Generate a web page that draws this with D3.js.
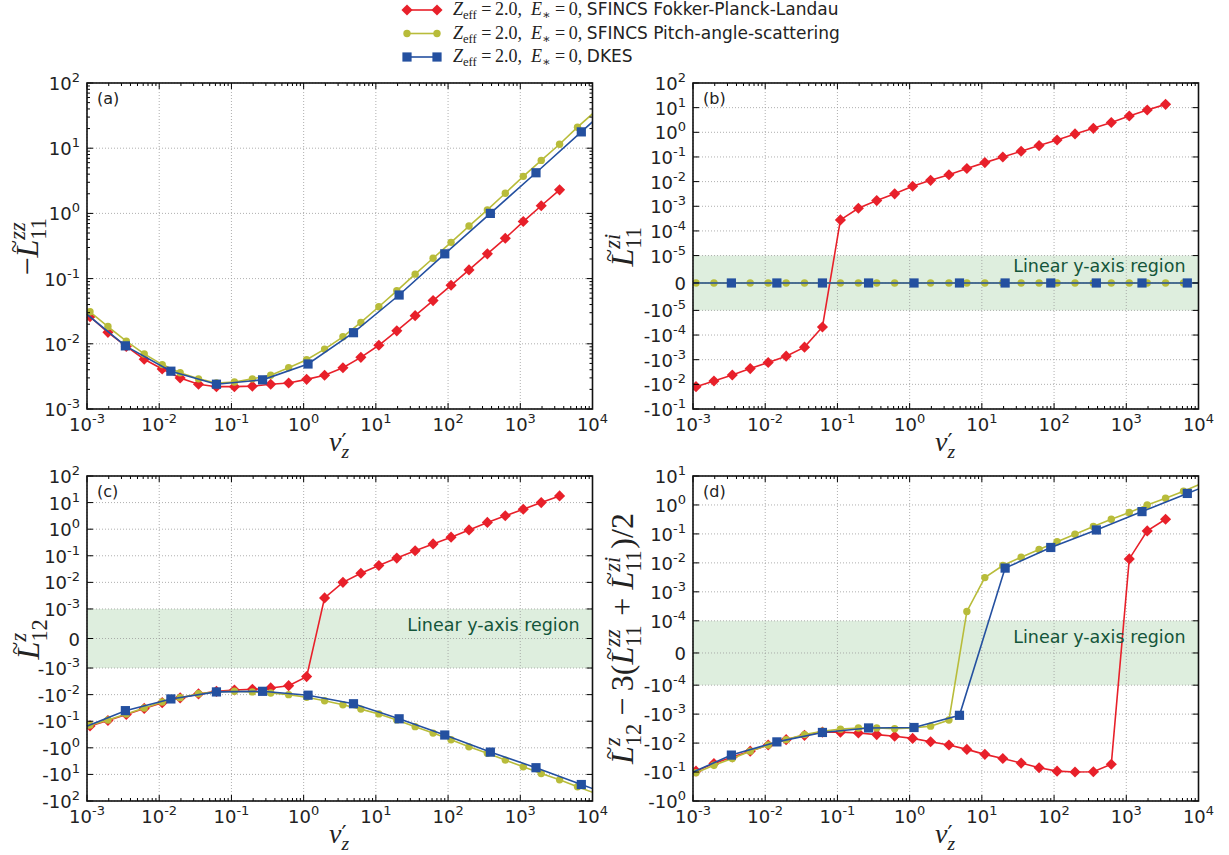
<!DOCTYPE html>
<html lang="en">
<head>
<meta charset="UTF-8">
<title>SFINCS / DKES monoenergetic coefficients</title>
<script src="https://d3js.org/d3.v7.min.js"></script>
<style>
  body { margin: 0; background: #fff; }
  text { font-family: "DejaVu Sans", sans-serif; fill: #222; white-space: pre; }
  .math { font-family: "Liberation Serif", "DejaVu Serif", serif; }
</style>
</head>
<body>
<script>
// collisionality grids (nu'_z)
const nuSfincs = [1.1e-3, 1.95e-3, 3.5e-3, 6.2e-3, 0.011, 0.0195, 0.035, 0.062, 0.11, 0.195, 0.35, 0.62,
  1.1, 1.95, 3.5, 6.2, 11, 19.5, 35, 62, 110, 195, 350, 620, 1100, 1950, 3500, 6200, 11000];
const nuDkes = [7.9e-4, 3.4e-3, 1.45e-2, 6.2e-2, 0.27, 1.15, 4.9, 21, 90, 385, 1650, 7000, 30000];

// (a) -L11^zz
const aFPL = [0.026, 0.015, 0.0091, 0.0058, 0.0041, 0.0030, 0.0024, 0.0022, 0.0022, 0.00224, 0.0024, 0.0025,
  0.00285, 0.0033, 0.0043, 0.0062, 0.0095, 0.0158, 0.027, 0.046, 0.079, 0.136, 0.24, 0.415, 0.75, 1.31, 2.3];
const aPAS = [0.031, 0.0184, 0.011, 0.007, 0.0048, 0.0036, 0.0029, 0.0025, 0.0026, 0.0029, 0.0033, 0.0043,
  0.0057, 0.0083, 0.0128, 0.0213, 0.037, 0.065, 0.117, 0.205, 0.36, 0.64, 1.13, 2.04, 3.7, 6.5, 11.5, 21, 37];
const aDKES = [0.035, 0.0093, 0.0038, 0.0024, 0.0028, 0.0049, 0.0148, 0.056, 0.24, 1.0, 4.2, 17.8, 76];

// (b) L11^zi
const bFPL = [-0.0124, -0.0073, -0.0042, -0.0023, -0.0013, -7.2e-4, -3.1e-4, -4.7e-5, 2.8e-4, 8.3e-4, 1.7e-3, 3.2e-3,
  6.5e-3, 0.0113, 0.019, 0.034, 0.059, 0.1, 0.17, 0.29, 0.49, 0.86, 1.45, 2.5, 4.6, 8.0, 13.6];
const bPAS = [0, 0, 0, 0, 0, 0, 0, 0, 0, 0, 0, 0, 0, 0, 0, 0, 0, 0, 0, 0, 0, 0, 0, 0, 0, 0, 0, 0, 0];
const bDKES = [0, 0, 0, 0, 0, 0, 0, 0, 0, 0, 0, 0, 0];

// (c) L12^z
const cFPL = [-0.15, -0.094, -0.056, -0.033, -0.020, -0.0133, -0.0094, -0.0075, -0.0067, -0.0063, -0.0056, -0.0046,
  -0.0021, 0.0026, 0.010, 0.022, 0.043, 0.082, 0.155, 0.28, 0.50, 0.94, 1.8, 3.2, 5.6, 10, 17.8];
const cPAS = [-0.14, -0.09, -0.054, -0.032, -0.019, -0.013, -0.0093, -0.0079, -0.0075, -0.0079, -0.0087, -0.01,
  -0.0126, -0.017, -0.024, -0.035, -0.053, -0.089, -0.16, -0.28, -0.50, -0.92, -1.6, -2.9, -5.2, -9.2, -16, -29, -52];
const cDKES = [-0.2, -0.04, -0.0145, -0.0079, -0.0075, -0.0105, -0.022, -0.081, -0.33, -1.45, -5.6, -24, -100];

// (d) L12^z - 3(L11^zz + L11^zi)/2
const dFPL = [-0.093, -0.051, -0.030, -0.019, -0.0117, -0.0076, -0.0054, -0.0042, -0.0042, -0.0045, -0.0051, -0.0058,
  -0.0069, -0.0090, -0.0117, -0.0165, -0.0245, -0.034, -0.049, -0.071, -0.093, -0.1, -0.098, -0.054, 0.0137, 0.127, 0.32];
const dPAS = [-0.105, -0.058, -0.034, -0.019, -0.0117, -0.0076, -0.0051, -0.0039, -0.0033, -0.003, -0.003, -0.0032,
  -0.003, -0.0026, -0.0016, 2.1e-4, 0.0031, 0.0081, 0.0156, 0.029, 0.054, 0.097, 0.18, 0.32, 0.55, 1.0, 1.7, 3.0, 5.5];
const dDKES = [-0.13, -0.026, -0.0091, -0.0043, -0.003, -0.0029, -0.0011, 0.0066, 0.034, 0.137, 0.59, 2.5, 10.7];

// tick exponents
const xTickExp = [-3, -2, -1, 0, 1, 2, 3, 4];
const aTickExp = [-3, -2, -1, 0, 1, 2];
const bPosExp = [-5, -4, -3, -2, -1, 0, 1, 2], bNegExp = [-5, -4, -3, -2, -1];
const cPosExp = [-3, -2, -1, 0, 1, 2], cNegExp = [-3, -2, -1, 0, 1, 2];
const dPosExp = [-4, -3, -2, -1, 0, 1], dNegExp = [-4, -3, -2, -1, 0];

const colFPL = "#e8202a", colPAS = "#b8bc3a", colDKES = "#2450a0";

const W = 1229, H = 855;
const svg = d3.select("body").append("svg").attr("width", W).attr("height", H);

const cols = [87, 693], pw = 505.5;
const rows = [83, 476], ph = [326, 325];

// matplotlib-like symlog transform (base 10, linscale 1)
function symlog(C) {
  const L = 1 / (1 - 1 / 10);
  return v => {
    const a = Math.abs(v);
    return a <= C ? v / C * L : Math.sign(v) * (L + Math.log10(a / C));
  };
}

// math label as one <text> made of absolutely placed tspans (stacked scripts, tilde accents)
function mathRun(parent, tokens, fs) {
  const t = parent.append("text").attr("class", "math").attr("font-size", fs);
  let cx = 0;
  tokens.forEach(tk => {
    if (tk.sup != null || tk.sub != null) {
      let w = 0;
      const ss = fs * 0.7;
      if (tk.sup != null) {
        const s = t.append("tspan").attr("x", cx).attr("y", -fs * (tk.supY != null ? tk.supY : 0.42))
          .attr("font-size", fs * (tk.supSize || 0.7)).attr("font-style", tk.supR ? "normal" : "italic").text(tk.sup);
        if (tk.supFont) s.style("font-family", tk.supFont);
        w = Math.max(w, s.node().getComputedTextLength());
      }
      if (tk.sub != null) {
        const s = t.append("tspan").attr("x", cx).attr("y", fs * 0.24)
          .attr("font-size", ss).attr("font-style", tk.subIt ? "italic" : "normal").text(tk.sub);
        w = Math.max(w, s.node().getComputedTextLength());
      }
      cx += w + fs * 0.05;
    } else {
      const size = tk.size || fs;
      const s = t.append("tspan").attr("x", cx).attr("y", 0).attr("font-size", size)
        .attr("font-style", tk.it ? "italic" : "normal").text(tk.t);
      if (tk.sans) s.style("font-family", "'DejaVu Sans', sans-serif");
      const tw = s.node().getComputedTextLength();
      if (tk.tilde) {
        t.append("tspan").attr("x", cx + tw * 0.62).attr("y", -fs * 0.5)
          .attr("text-anchor", "middle").attr("font-size", fs * 0.75).attr("font-style", "normal").text("~");
      }
      cx += tw;
    }
  });
  return { t, width: cx };
}

const Lt = { t: "L", it: true, tilde: true };
const nuLabel = [{ t: "ν", it: true },
  { sup: "′", supR: true, supY: 0.02, supSize: 0.8, supFont: "'DejaVu Sans', sans-serif", sub: "z", subIt: true }];

function powLabel(text, sign, e) {
  text.append("tspan").text(sign + "10");
  text.append("tspan").attr("dy", -8).attr("font-size", 13).text(e < 0 ? "-" + (-e) : String(e));
}

const panels = [
  { tag: "(a)", col: 0, row: 0, type: "log", yMin: 1e-3, yMax: 1e2, pos: aTickExp, neg: [],
    fpl: aFPL, pas: aPAS, dkes: aDKES, labOff: 49,
    ylab: [{ t: "−" }, Lt, { sup: "zz", sub: "11" }] },
  { tag: "(b)", col: 1, row: 0, type: "symlog", C: 1e-5, yMin: -1e-1, yMax: 1e2, pos: bPosExp, neg: bNegExp,
    fpl: bFPL, pas: bPAS, dkes: bDKES, labOff: 60, noteOff: 16,
    ylab: [Lt, { sup: "zi", sub: "11" }] },
  { tag: "(c)", col: 0, row: 1, type: "symlog", C: 1e-3, yMin: -1e2, yMax: 1e2, pos: cPosExp, neg: cNegExp,
    fpl: cFPL, pas: cPAS, dkes: cDKES, labOff: 48, noteOff: 22,
    ylab: [Lt, { sup: "z", sub: "12" }] },
  { tag: "(d)", col: 1, row: 1, type: "symlog", C: 1e-4, yMin: -1, yMax: 1e1, pos: dPosExp, neg: dNegExp,
    fpl: dFPL, pas: dPAS, dkes: dDKES, labOff: 60, noteOff: 22,
    ylab: [Lt, { sup: "z", sub: "12" }, { t: "\u2009−\u20093(" }, Lt, { sup: "zz", sub: "11" }, { t: " + " }, Lt,
      { sup: "zi", sub: "11" }, { t: ")/2" }] }
];

panels.forEach((p, i) => {
  const x0 = cols[p.col], y0 = rows[p.row], w = pw, h = ph[p.row];
  const g = svg.append("g");
  const x = d3.scaleLog().domain([1e-3, 1e4]).range([x0, x0 + w]);
  const tf = p.type === "log" ? (v => Math.log10(v)) : symlog(p.C);
  const y = d3.scaleLinear().domain([tf(p.yMin), tf(p.yMax)]).range([y0 + h, y0]);
  const Y = v => y(tf(v));

  const clipId = "clip" + i;
  svg.append("clipPath").attr("id", clipId).append("rect")
    .attr("x", x0).attr("y", y0).attr("width", w).attr("height", h);

  // linear region band
  if (p.type === "symlog") {
    g.append("rect").attr("x", x0).attr("y", Y(p.C)).attr("width", w).attr("height", Y(-p.C) - Y(p.C))
      .attr("fill", "rgb(222,238,222)");
  }

  // y tick values
  let yTicks = [];
  if (p.type === "log") {
    yTicks = p.pos.map(e => ({ v: Math.pow(10, e), sign: "", e }));
  } else {
    yTicks = p.pos.map(e => ({ v: Math.pow(10, e), sign: "", e }))
      .concat([{ v: 0, zero: true }])
      .concat(p.neg.map(e => ({ v: -Math.pow(10, e), sign: "-", e })));
  }

  // grid
  const grid = g.append("g").attr("stroke", "#9a9a9a").attr("stroke-width", 0.8).attr("stroke-dasharray", "1,2");
  xTickExp.forEach(e => {
    const px = x(Math.pow(10, e));
    grid.append("line").attr("x1", px).attr("x2", px).attr("y1", y0).attr("y2", y0 + h);
  });
  yTicks.forEach(t => {
    const py = Y(t.v);
    grid.append("line").attr("x1", x0).attr("x2", x0 + w).attr("y1", py).attr("y2", py);
  });

  // series
  const plot = g.append("g").attr("clip-path", `url(#${clipId})`);
  const line = d3.line().x(d => x(d[0])).y(d => Y(d[1]));
  const series = [
    { nu: nuSfincs, v: p.fpl, col: colFPL, mk: "diamond" },
    { nu: nuSfincs, v: p.pas, col: colPAS, mk: "circle" },
    { nu: nuDkes, v: p.dkes, col: colDKES, mk: "square" }
  ];
  series.forEach(s => {
    const pts = s.v.map((v, k) => [s.nu[k], v]);
    plot.append("path").datum(pts).attr("d", line).attr("fill", "none")
      .attr("stroke", s.col).attr("stroke-width", 1.6);
    const inDom = pts.filter(d => d[0] >= 1e-3 && d[0] <= 1e4);
    const m = plot.append("g").attr("fill", s.col);
    inDom.forEach(d => {
      const cx = x(d[0]), cy = Y(d[1]);
      if (s.mk === "circle") m.append("circle").attr("cx", cx).attr("cy", cy).attr("r", 3.7);
      else if (s.mk === "square") m.append("rect").attr("x", cx - 4.6).attr("y", cy - 4.6).attr("width", 9.2).attr("height", 9.2);
      else m.append("path").attr("d", d3.symbol().type(d3.symbolSquare).size(62)())
        .attr("transform", `translate(${cx},${cy}) rotate(45)`);
    });
  });

  // ticks (inward on all sides)
  const tk = g.append("g").attr("stroke", "#000").attr("stroke-width", 1);
  xTickExp.forEach((e, k) => {
    const px = x(Math.pow(10, e));
    tk.append("line").attr("x1", px).attr("x2", px).attr("y1", y0 + h).attr("y2", y0 + h - 6);
    tk.append("line").attr("x1", px).attr("x2", px).attr("y1", y0).attr("y2", y0 + 6);
    if (k < xTickExp.length - 1) {
      for (let m = 2; m <= 9; m++) {
        const qx = x(m * Math.pow(10, e));
        tk.append("line").attr("x1", qx).attr("x2", qx).attr("y1", y0 + h).attr("y2", y0 + h - 3);
        tk.append("line").attr("x1", qx).attr("x2", qx).attr("y1", y0).attr("y2", y0 + 3);
      }
    }
  });
  yTicks.forEach(t => {
    const py = Y(t.v);
    tk.append("line").attr("x1", x0).attr("x2", x0 + 6).attr("y1", py).attr("y2", py);
    tk.append("line").attr("x1", x0 + w).attr("x2", x0 + w - 6).attr("y1", py).attr("y2", py);
  });
  if (p.type === "log") {
    p.pos.slice(0, -1).forEach(e => {
      for (let m = 2; m <= 9; m++) {
        const qy = Y(m * Math.pow(10, e));
        tk.append("line").attr("x1", x0).attr("x2", x0 + 3).attr("y1", qy).attr("y2", qy);
        tk.append("line").attr("x1", x0 + w).attr("x2", x0 + w - 3).attr("y1", qy).attr("y2", qy);
      }
    });
  }

  // frame
  g.append("rect").attr("x", x0).attr("y", y0).attr("width", w).attr("height", h)
    .attr("fill", "none").attr("stroke", "#111").attr("stroke-width", 1.6);

  // tick labels
  xTickExp.forEach(e => {
    const t = g.append("text").attr("x", x(Math.pow(10, e))).attr("y", y0 + h + 22)
      .attr("text-anchor", "middle").attr("font-size", 18);
    powLabel(t, "", e);
  });
  yTicks.forEach(tv => {
    const t = g.append("text").attr("x", x0 - 7).attr("y", Y(tv.v) + 7)
      .attr("text-anchor", "end").attr("font-size", 18);
    if (tv.zero) t.text("0"); else powLabel(t, tv.sign, tv.e);
  });

  // panel tag
  g.append("text").attr("x", x0 + 10).attr("y", y0 + 21).attr("font-size", 16).text(p.tag);

  // linear region note
  if (p.type === "symlog") {
    g.append("text").attr("x", x0 + w - 13).attr("y", Y(p.C) + p.noteOff).attr("text-anchor", "end")
      .attr("font-size", 17.5).style("fill", "#14553a").text("Linear y-axis region");
  }

  // axis labels
  const xl = g.append("g").attr("transform", `translate(${x0 + w / 2},${y0 + h + 42})`);
  const xr = mathRun(xl, nuLabel, 28);
  xr.t.attr("transform", `translate(${-xr.width / 2},0)`);

  const yl = g.append("g").attr("transform", `translate(${x0 - p.labOff},${y0 + h / 2}) rotate(-90)`);
  const yr = mathRun(yl, p.ylab, 32);
  yr.t.attr("transform", `translate(${-yr.width / 2},0)`);
});

// legend
const legendItems = [
  { col: colFPL, mk: "diamond", name: "SFINCS Fokker-Planck-Landau" },
  { col: colPAS, mk: "circle", name: "SFINCS Pitch-angle-scattering" },
  { col: colDKES, mk: "square", name: "DKES" }
];
legendItems.forEach((it, k) => {
  const ly = 10 + k * 23.5;
  const lg = svg.append("g");
  lg.append("line").attr("x1", 407).attr("x2", 437).attr("y1", ly).attr("y2", ly)
    .attr("stroke", it.col).attr("stroke-width", 1.6);
  [407, 437].forEach(cx => {
    if (it.mk === "circle") lg.append("circle").attr("cx", cx).attr("cy", ly).attr("r", 3.7).attr("fill", it.col);
    else if (it.mk === "square") lg.append("rect").attr("x", cx - 4.6).attr("y", ly - 4.6).attr("width", 9.2).attr("height", 9.2).attr("fill", it.col);
    else lg.append("path").attr("d", d3.symbol().type(d3.symbolSquare).size(62)())
      .attr("transform", `translate(${cx},${ly}) rotate(45)`).attr("fill", it.col);
  });
  const tg = lg.append("g").attr("transform", `translate(453,${ly + 5})`);
  mathRun(tg, [
    { t: "Z", it: true }, { sub: "eff" }, { t: "\u2009=\u20092.0,  " },
    { t: "E", it: true }, { sub: "∗" }, { t: "\u2009=\u20090, " },
    { t: it.name, sans: true, size: 17 }
  ], 18);
});
</script>
</body>
</html>
